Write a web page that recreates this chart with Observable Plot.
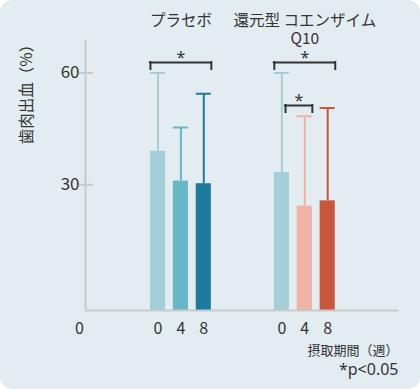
<!DOCTYPE html>
<html>
<head>
<meta charset="utf-8">
<script src="https://cdn.jsdelivr.net/npm/d3@7"></script>
<script src="https://cdn.jsdelivr.net/npm/@observablehq/plot@0.6"></script>
<style>
  html, body { margin: 0; padding: 0; background: #ffffff; }
  #panel {
    width: 420px; height: 389px; background: #e3ecf1; border-radius: 12px;
    overflow: hidden; position: relative;
  }
  #panel svg { display: block; }
</style>
</head>
<body>
<div id="panel"></div>
<script>
// ---- data ----
const groups = ["プラセボ", "還元型 コエンザイム\nQ10"];
const weeks = ["0", "4", "8"];
const placeboMean = [39.0, 31.0, 30.3];
const placeboUpper = [60.0, 45.4, 54.4];
const q10Mean = [33.3, 24.3, 25.7];
const q10Upper = [60.0, 48.4, 50.6];
const yTicks = [30, 60];
const yTitle = "歯肉出血（%）";
const xTitle = "摂取期間（週）";
const note = "*p<0.05";
const originLabel = "0";
// significance comparisons: group index, first and last week index, bracket level
const comparisons = [
  {group: 0, from: 0, to: 2, level: 62.8, inner: false},
  {group: 1, from: 0, to: 2, level: 62.8, inner: false},
  {group: 1, from: 0, to: 1, level: 51.3, inner: true}
];
// colours
const placeboColors = ["#a4cfd8", "#66b8c6", "#1e7b9e"];
const q10Colors = ["#a4cfd8", "#f0b2a4", "#c9563a"];

// ---- layout ----
const groupGap = 5.41;
const half = 0.33;
const xDomain = [-3.166, 10.502];
const yDomain = [-3.7, 68.7];
const axisColor = "#c9c9c9";
const ink = "#333333";

const means = [placeboMean, q10Mean];
const uppers = [placeboUpper, q10Upper];
const colors = [placeboColors, q10Colors];
const pos = (g, w) => g * groupGap + w;

const rows = groups.flatMap((g, gi) => weeks.map((w, wi) => ({
  group: g, week: w, mean: means[gi][wi], upper: uppers[gi][wi],
  color: colors[gi][wi], pos: pos(gi, wi)
})));

const brackets = comparisons.map(c => ({
  x1: c.inner ? pos(c.group, c.from) + 0.16 : pos(c.group, c.from) - half,
  x2: pos(c.group, c.to) + half,
  level: c.level
}));
const legLen = 1.9;

const font = '"Noto Sans CJK JP", "Noto Sans", sans-serif';
const latin = '"Noto Sans", "Noto Sans CJK JP", sans-serif';

const chart = Plot.plot({
  width: 420, height: 389,
  marginLeft: 85, marginRight: 22, marginTop: 40, marginBottom: 79,
  x: {domain: xDomain, axis: null},
  y: {domain: yDomain, axis: null},
  color: {type: "identity"},
  style: {background: "transparent", fontFamily: font, color: ink, overflow: "visible"},
  marks: [
    // bars
    Plot.rectY(rows, {x1: d => d.pos - half, x2: d => d.pos + half, y1: yDomain[0], y2: "mean", fill: "color"}),
    // error bars
    Plot.ruleX(rows, {x: "pos", y1: "mean", y2: "upper", stroke: "color", strokeWidth: 2}),
    Plot.ruleY(rows, {y: "upper", x1: d => d.pos - half, x2: d => d.pos + half, stroke: "color", strokeWidth: 2}),
    // axes
    Plot.ruleX([xDomain[0]], {stroke: axisColor, strokeWidth: 2}),
    Plot.ruleY([yDomain[0]], {stroke: axisColor, strokeWidth: 2}),
    Plot.ruleY(yTicks, {stroke: axisColor, strokeWidth: 2, insetLeft: -6, insetRight: 305}),
    Plot.text(yTicks, {y: d => d, text: d => String(d), frameAnchor: "left", textAnchor: "end", dx: -6, fontSize: 17, fill: ink}),
    // week labels
    Plot.text(rows, {x: "pos", text: "week", frameAnchor: "bottom", lineAnchor: "middle", dy: 18, fontSize: 16, fill: ink}),
    Plot.text([originLabel], {x: xDomain[0], text: d => d, frameAnchor: "bottom", lineAnchor: "middle", dx: -6, dy: 18, fontSize: 16, fill: ink}),
    // group labels
    Plot.text(groups, {x: (d, i) => pos(i, 1), text: d => d, frameAnchor: "top", lineAnchor: "top", dy: -27.5, fontSize: 15.5, lineHeight: 18 / 15.5, fill: ink}),
    // significance brackets
    Plot.ruleY(brackets, {y: "level", x1: "x1", x2: "x2", stroke: ink, strokeWidth: 2, strokeLinecap: "square"}),
    Plot.ruleX(brackets, {x: "x1", y1: d => d.level - legLen, y2: "level", stroke: ink, strokeWidth: 2, strokeLinecap: "square"}),
    Plot.ruleX(brackets, {x: "x2", y1: d => d.level - legLen, y2: "level", stroke: ink, strokeWidth: 2, strokeLinecap: "square"}),
    Plot.text(brackets, {x: d => (d.x1 + d.x2) / 2, y: "level", text: () => "*", lineAnchor: "middle", dy: -5, fontSize: 16, fontFamily: latin, fill: ink}),
    // titles
    Plot.text([yTitle], {text: d => d, frameAnchor: "top-left", rotate: -90, textAnchor: "middle", lineAnchor: "middle", dx: -58, dy: 50, fontSize: 15.5, fill: ink}),
    Plot.text([xTitle], {text: d => d, frameAnchor: "bottom-right", textAnchor: "end", lineAnchor: "middle", dy: 40, fontSize: 13, fill: ink}),
    Plot.text([note], {text: d => d, frameAnchor: "bottom-right", textAnchor: "end", lineAnchor: "middle", dy: 59.5, fontSize: 16, fontFamily: latin, fill: ink})
  ]
});
document.getElementById("panel").appendChild(chart);
</script>
</body>
</html>
